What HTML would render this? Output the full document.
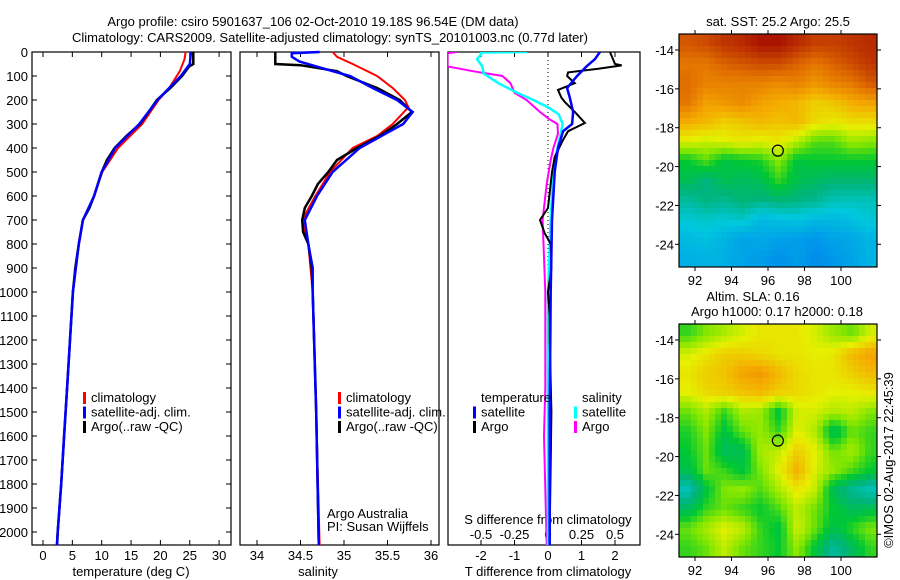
<!DOCTYPE html>
<html><head><meta charset="utf-8">
<style>
html,body{margin:0;padding:0;background:#fff;}
svg{display:block;font-family:"Liberation Sans",sans-serif;}
text{font-size:13px;fill:#000;}
</style></head>
<body>
<svg id="chart" width="900" height="580" viewBox="0 0 900 580" xmlns="http://www.w3.org/2000/svg">
<g>
<text x="313" y="26" text-anchor="middle">Argo profile: csiro 5901637_106 02-Oct-2010 19.18S 96.54E (DM data)</text>
<text x="330" y="42" text-anchor="middle">Climatology: CARS2009. Satellite-adjusted climatology: synTS_20101003.nc (0.77d later)</text>
</g>
<text x="778" y="26" text-anchor="middle">sat. SST: 25.2 Argo: 25.5</text>
<text x="753" y="301" text-anchor="middle">Altim. SLA: 0.16</text>
<text x="777" y="316" text-anchor="middle">Argo h1000: 0.17 h2000: 0.18</text>
<text x="893" y="460" text-anchor="middle" transform="rotate(-90 893 460)">©IMOS 02-Aug-2017 22:45:39</text>
</svg>
<script>
// ---------- data ----------
const depthTicks=[0,100,200,300,400,500,600,700,800,900,1000,1100,1200,1300,1400,1500,1600,1700,1800,1900,2000];
const tempTicks=[0,5,10,15,20,25,30];
const salTicks=[34,34.5,35,35.5,36];
const tdTicks=[-2,-1,0,1,2];
const sdTicks=[-0.5,-0.25,0,0.25,0.5];
const sdTickLabels=["-0.5","-0.25","0","0.25","0.5"];

const argoTDepth=[0,50,60,100,150,200,250,300,350,400,450,500,600,650,700,800,900,1000,1200,1400,1600,1800,2000,2054];
const argoT=[25.6,25.6,24.9,23.7,21.7,19.4,18.0,16.5,14.2,12.2,10.9,10.0,8.7,7.9,6.8,6.1,5.5,5.1,4.6,4.1,3.6,3.1,2.5,2.4];
const climTDepth=[0,30,80,150,200,300,400,500,600,700,800,1000,1200,1400,1600,1800,2000,2054];
const climT=[24.3,24.1,23.3,21.5,19.7,16.9,12.8,10.1,8.7,6.8,6.1,5.1,4.6,4.1,3.6,3.1,2.5,2.3];
const satTDepth=[0,50,100,200,300,400,500,600,700,800,1000,1200,1400,1600,1800,2000,2054];
const satT=[25.2,25.0,23.5,19.5,16.4,12.3,10.0,8.7,6.8,6.1,5.1,4.6,4.1,3.6,3.1,2.5,2.4];

const argoSDepth=[0,50,55,80,100,150,200,250,300,350,400,450,500,550,600,650,700,750,800,900,1000,1500,2054];
const argoS=[34.21,34.21,34.5,34.92,35.03,35.38,35.64,35.78,35.61,35.41,35.15,34.92,34.82,34.70,34.63,34.55,34.52,34.53,34.59,34.63,34.64,34.68,34.71];
const climSDepth=[0,20,50,100,150,200,230,300,350,400,500,600,700,800,1000,1500,2054];
const climS=[34.87,34.92,35.10,35.38,35.56,35.70,35.74,35.56,35.38,35.10,34.84,34.67,34.52,34.59,34.64,34.68,34.72];
const satSDepth=[0,5,20,40,80,100,150,200,250,300,400,500,600,700,800,900,1000,1500,2054];
const satS=[34.72,34.40,34.40,34.49,34.87,35.07,35.33,35.61,35.79,35.68,35.18,34.87,34.69,34.55,34.59,34.64,34.64,34.68,34.71];

const argoTdDepth=[0,50,56,70,85,100,130,158,190,208,250,296,330,366,437,500,575,650,700,754,800,900,1000,1100,1200,1500,2000,2054];
const argoTd=[1.85,2.0,2.2,1.5,0.6,0.57,0.8,0.3,0.4,0.5,0.8,1.1,0.6,0.45,0.2,0.12,0.06,0.0,-0.24,-0.1,0.08,0.1,0.0,0.05,0.05,0.1,0.05,0.05];
const satTdDepth=[0,30,60,100,150,190,250,300,330,400,500,700,1000,1500,2054];
const satTd=[1.55,1.4,1.15,0.87,0.57,0.65,0.75,0.72,0.45,0.3,0.2,0.12,0.08,0.05,0.05];
const argoSdDepth=[0,5,10,60,80,100,130,170,200,250,280,300,340,400,450,550,700,1000,1400,1600,2054];
const argoSd=[-0.68,-0.75,-0.75,-0.75,-0.56,-0.34,-0.28,-0.25,-0.16,-0.06,0.01,0.07,0.075,0.04,0.02,-0.01,-0.04,-0.02,-0.02,-0.03,-0.01];
const satSdDepth=[0,2,10,30,60,90,130,170,200,230,260,300,350,400,500,700,1000,2054];
const satSd=[-0.155,-0.5,-0.5,-0.53,-0.49,-0.48,-0.37,-0.23,-0.11,0,0.08,0.11,0.09,0.07,0.04,0.02,0.0,0.0];

const mapLats=[-13.7,-14.7,-15.7,-16.7,-17.7,-18.7,-19.7,-20.7,-21.7,-22.7,-23.7,-24.7];
const mapLons=[91.6,92.6,93.6,94.6,95.6,96.6,97.6,98.6,99.6,100.6,101.6];
const lonTicks=[92,94,96,98,100];
const latTicks=[-14,-16,-18,-20,-22,-24];
const sstGrid=[
[26.3,26.4,26.6,26.7,26.9,26.9,26.7,26.5,26.5,26.6,26.7],
[26.0,26.0,26.2,26.3,26.4,26.4,26.2,26.0,26.2,26.4,26.6],
[26.1,25.9,25.9,25.9,25.9,25.8,25.9,25.7,25.9,26.0,26.3],
[26.0,25.6,25.7,25.8,25.6,25.5,25.4,25.2,25.3,25.5,25.6],
[25.5,25.4,25.2,25.3,25.4,25.3,25.4,25.1,25.0,25.1,25.1],
[24.9,24.8,24.9,25.0,24.9,25.0,24.7,24.3,24.3,24.6,24.5],
[24.0,24.3,23.9,24.0,24.1,24.5,23.9,24.0,24.0,24.0,24.0],
[23.8,23.5,23.8,23.7,23.8,24.2,23.8,23.7,23.6,23.6,23.6],
[23.3,23.5,23.4,23.6,23.5,23.6,23.5,23.4,23.1,23.1,23.1],
[22.9,23.0,22.9,23.0,22.6,22.7,22.8,22.6,22.6,22.7,22.9],
[22.6,22.7,22.5,22.2,22.3,22.2,22.1,22.0,22.2,22.3,22.5],
[22.4,22.5,22.4,22.2,22.1,21.9,22.1,21.8,22.0,22.2,22.5]];
const slaGrid=[
[0.12,0.15,0.17,0.19,0.21,0.21,0.21,0.19,0.16,0.14,0.19],
[0.19,0.21,0.23,0.23,0.22,0.21,0.21,0.20,0.21,0.25,0.27],
[0.21,0.23,0.24,0.27,0.28,0.25,0.22,0.21,0.21,0.23,0.25],
[0.20,0.22,0.23,0.24,0.25,0.23,0.22,0.21,0.20,0.20,0.21],
[0.14,0.17,0.12,0.17,0.16,0.09,0.19,0.19,0.17,0.18,0.15],
[0.11,0.15,0.09,0.14,0.16,0.12,0.20,0.17,0.07,0.14,0.12],
[0.10,0.14,0.07,0.08,0.17,0.18,0.23,0.20,0.14,0.17,0.12],
[0.08,0.14,0.12,0.09,0.15,0.20,0.26,0.19,0.16,0.13,0.10],
[0.00,0.09,0.15,0.16,0.13,0.17,0.21,0.18,0.07,0.03,0.00],
[0.07,0.12,0.14,0.12,0.10,0.13,0.18,0.14,0.10,0.07,0.08],
[0.14,0.17,0.20,0.18,0.12,0.09,0.19,0.14,0.08,0.12,0.15],
[0.12,0.14,0.18,0.14,0.12,0.10,0.16,0.09,0.02,0.07,0.12]];
const argoLon=96.54, argoLat=-19.18;

// ---------- helpers ----------
const NS="http://www.w3.org/2000/svg";
const svg=document.getElementById('chart');
function mk(tag,attrs,parent){const e=document.createElementNS(NS,tag);for(const k in attrs)e.setAttribute(k,attrs[k]);(parent||svg).appendChild(e);return e;}
function txt(x,y,s,anchor,parent){const t=mk('text',{x:x,y:y,'text-anchor':anchor||'middle'},parent);t.textContent=s;return t;}
const TOP=52,BOT=545;
const yD=d=>TOP+d*0.24;
const tempX=t=>43+t*5.87;
const salX=s=>257+(s-34)*87;
const tdX=v=>548+v*33.5;
const sdX=v=>548+v*134;

function frame(x0,x1,name){const r=mk('rect',{x:x0,y:TOP,width:x1-x0,height:BOT-TOP,fill:'none',stroke:'#000','stroke-width':1.2});

}
function line(depths,vals,fx,color,w,name,clip){const pts=depths.map((d,i)=>fx(vals[i]).toFixed(1)+','+yD(d).toFixed(1)).join(' ');
const p=mk('polyline',{points:pts,fill:'none',stroke:color,'stroke-width':w,'stroke-linejoin':'miter'});
if(clip)p.setAttribute('clip-path','url(#'+clip+')');

}
function xTicks(ticks,labels,fx,name){const g=mk('g',{});


ticks.forEach((t,i)=>{const x=fx(t);mk('line',{x1:x,y1:BOT,x2:x,y2:BOT-5,stroke:'#000'},g);mk('line',{x1:x,y1:TOP,x2:x,y2:TOP+5,stroke:'#000'},g);txt(x,560,labels[i],'middle',g);});}
function legend(x,y,entries,name){const g=mk('g',{});


entries.forEach((e,i)=>{const yy=y+i*14.5;if(e[0])mk('rect',{x:x,y:yy-10,width:3,height:12,fill:e[0]},g);txt(x+8,yy,e[1],'start',g);});}

const defs=mk('defs',{});
const cp=mk('clipPath',{id:'p3clip'},defs);mk('rect',{x:448,y:TOP,width:192,height:BOT-TOP},cp);

// ---------- panel 1: temperature ----------
frame(32,231,'temperature-panel');
const dt=mk('g',{});


depthTicks.forEach(d=>{const y=yD(d);mk('line',{x1:32,y1:y,x2:37,y2:y,stroke:'#000'},dt);mk('line',{x1:231,y1:y,x2:226,y2:y,stroke:'#000'},dt);txt(28,y+5,String(d),'end',dt);});
xTicks(tempTicks,tempTicks.map(String),tempX,'temperature-axis');
txt(131,576,'temperature (deg C)');
line(climTDepth,climT,tempX,'#f00',2,'temp-climatology-line');
line(argoTDepth,argoT,tempX,'#000',2.5,'temp-argo-line');
line(satTDepth,satT,tempX,'#00f',2.5,'temp-satellite-line');
legend(83,402,[['#f00','climatology'],['#00f','satellite-adj. clim.'],['#000','Argo(..raw -QC)']],'temperature-legend');

// ---------- panel 2: salinity ----------
frame(240,439,'salinity-panel');
xTicks(salTicks,['34','34.5','35','35.5','36'],salX,'salinity-axis');
txt(318,576,'salinity');
line(climSDepth,climS,salX,'#f00',2,'sal-climatology-line');
line(argoSDepth,argoS,salX,'#000',2.5,'sal-argo-line');
line(satSDepth,satS,salX,'#00f',2.5,'sal-satellite-line');
legend(338,402,[['#f00','climatology'],['#00f','satellite-adj. clim.'],['#000','Argo(..raw -QC)']],'salinity-legend');
const cr=mk('g',{});


txt(327,518,'Argo Australia','start',cr);txt(327,531,'PI: Susan Wijffels','start',cr);

// ---------- panel 3: differences ----------
frame(448,640,'difference-panel');
const zl=mk('line',{x1:548,y1:TOP,x2:548,y2:BOT,stroke:'#000','stroke-dasharray':'1,3'});


const tg=mk('g',{});


tdTicks.forEach(t=>{const x=tdX(t);mk('line',{x1:x,y1:BOT,x2:x,y2:BOT-5,stroke:'#000'},tg);txt(x,560,String(t),'middle',tg);});
const sg=mk('g',{});


sdTicks.forEach((t,i)=>{const x=sdX(t);mk('line',{x1:x,y1:TOP,x2:x,y2:TOP+5,stroke:'#000'},sg);txt(x,539,sdTickLabels[i],'middle',sg);});
txt(548,524,'S difference from climatology');
txt(548,576,'T difference from climatology');
line(argoSdDepth,argoSd,sdX,'#f0f',2,'sdiff-argo-line','p3clip');
line(satSdDepth,satSd,sdX,'#0ff',2.5,'sdiff-satellite-line','p3clip');
line(argoTdDepth,argoTd,tdX,'#000',2,'tdiff-argo-line','p3clip');
line(satTdDepth,satTd,tdX,'#00f',2.5,'tdiff-satellite-line','p3clip');
legend(473,402,[[null,'temperature'],['#00f','satellite'],['#000','Argo']],'tdiff-legend');
legend(574,402,[[null,'salinity'],['#0ff','satellite'],['#f0f','Argo']],'sdiff-legend');

// ---------- maps ----------
const cstops=[[0,[0,100,220]],[0.15,[0,150,235]],[0.3,[0,200,220]],[0.42,[0,180,120]],[0.5,[0,200,50]],[0.58,[130,230,0]],[0.66,[230,240,0]],[0.76,[245,170,0]],[0.86,[225,110,0]],[1,[170,20,0]]];
function cmap(v){v=Math.max(0,Math.min(1,v));for(let i=1;i<cstops.length;i++){if(v<=cstops[i][0]){const a=cstops[i-1],b=cstops[i],f=(v-a[0])/(b[0]-a[0]);const c=a[1].map((x,k)=>Math.round(x+(b[1][k]-x)*f));return 'rgb('+c.join(',')+')';}}return 'rgb(170,20,0)';}
function interp(grid,lon,lat){let fx=(lon-mapLons[0]),fy=(mapLats[0]-lat);fx=Math.max(0,Math.min(mapLons.length-1,fx));fy=Math.max(0,Math.min(mapLats.length-1,fy));
const i0=Math.min(Math.floor(fy),mapLats.length-2),j0=Math.min(Math.floor(fx),mapLons.length-2);const a=fy-i0,b=fx-j0;
return grid[i0][j0]*(1-a)*(1-b)+grid[i0][j0+1]*(1-a)*b+grid[i0+1][j0]*a*(1-b)+grid[i0+1][j0+1]*a*b;}
function drawMap(top,grid,vmin,vmax,name){
const X0=679,X1=877,Y0=top,Y1=top+233;
const lonX=l=>695+(l-92)*18.25, latY=l=>Y0+16+(-14-l)*19.43;
const g=mk('g',{});


const step=6;
for(let y=Y0;y<Y1;y+=step){for(let x=X0;x<X1;x+=step){
const lon=92+(x+step/2-695)/18.25, lat=-14-(y+step/2-Y0-16)/19.43;
const v=(interp(grid,lon,lat)-vmin)/(vmax-vmin);
mk('rect',{x:x,y:y,width:Math.min(step,X1-x)+0.3,height:Math.min(step,Y1-y)+0.3,fill:cmap(v)},g);}}
mk('rect',{x:X0,y:Y0,width:X1-X0,height:Y1-Y0,fill:'none',stroke:'#000','stroke-width':1.2},g);
lonTicks.forEach(l=>{const x=lonX(l);mk('line',{x1:x,y1:Y0,x2:x,y2:Y0-4,stroke:'#000'},g);mk('line',{x1:x,y1:Y1,x2:x,y2:Y1+4,stroke:'#000'},g);txt(x,Y1+18,String(l),'middle',g);});
latTicks.forEach(l=>{const y=latY(l);mk('line',{x1:X0,y1:y,x2:X0-4,y2:y,stroke:'#000'},g);mk('line',{x1:X1,y1:y,x2:X1+4,y2:y,stroke:'#000'},g);txt(674,y+5,String(l),'end',g);});
const c=mk('circle',{cx:lonX(argoLon),cy:latY(argoLat),r:5.5,fill:'none',stroke:'#000','stroke-width':1.2});


}
drawMap(34,sstGrid,21.1,26.9,'sst-map');
drawMap(324,slaGrid,-0.2125,0.4125,'sla-map');
</script>
</body></html>
